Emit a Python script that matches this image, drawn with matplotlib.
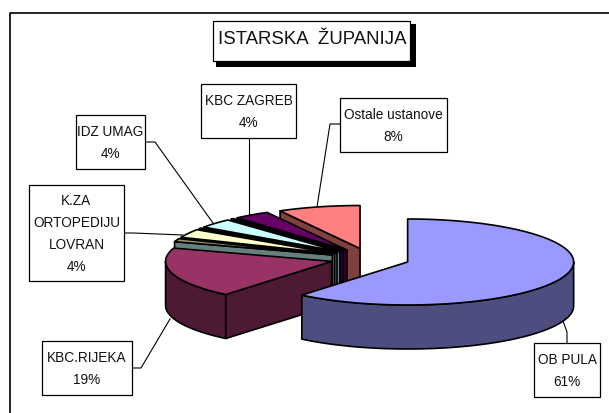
import numpy as np
import matplotlib
matplotlib.use("Agg")
import matplotlib.pyplot as plt
from matplotlib.patches import Polygon, Rectangle

plt.rcParams['font.family'] = ['Liberation Sans', 'DejaVu Sans']

# data (share of total, clockwise from 12 o'clock)
slice_names = ["OB PULA", "KBC.RIJEKA", "thin1", "K.ZA ORTOPEDIJU LOVRAN", "thin2", "IDZ UMAG", "thin3", "KBC ZAGREB", "Ostale ustanove"]
values = [61, 19, 1.2, 3.2, 0.3, 3.5, 0.3, 3.5, 8]
top_colors = ["#9999FF", "#993366", "#95956F", "#FFFFCC", "#000040", "#CCFFFF", "#000040", "#660066", "#FF8080"]
side_colors = ["#4D4D80", "#4D1933", "#668080", "#668080", "#668080", "#668080", "#330033", "#330033", "#804040"]

title_text = "ISTARSKA  ŽUPANIJA"
label_texts = ["OB PULA\n61%", "KBC.RIJEKA\n19%", "K.ZA\nORTOPEDIJU\nLOVRAN\n4%", "IDZ UMAG\n4%", "KBC ZAGREB\n4%", "Ostale ustanove\n8%"]
label_boxes = [(534, 344, 600, 398), (42, 342, 132, 396), (29, 186, 124, 282), (76, 116, 145, 170), (201, 85, 296, 139), (340, 99, 447, 153)]
leaders = [
    [(563, 322), (567, 333), (567, 344)],
    [(132, 369), (141, 369), (170, 320)],
    [(124, 234), (133, 234), (183, 236)],
    [(145, 143), (155, 143), (213, 224)],
    [(249, 139), (249, 219)],
    [(340, 125), (330, 125), (317, 208)],
]

CX, CY = 370, 259.5
RX, RY = 166, 43
DEPTH = 44
EX, EY = 40, 10.3

fig = plt.figure(figsize=(6.09, 4.14), dpi=100)
ax = fig.add_axes([0, 0, 1, 1])
ax.set_xlim(0, 609)
ax.set_ylim(414, 0)
ax.axis("off")

# chart frame: only the top and left lines show
ax.plot([9.5, 9.5, 609], [414, 13.5, 13.5], color="black", lw=1.2, zorder=1)

total = sum(values)
edges = np.cumsum([0] + values) / total * 2 * np.pi
wedges = []
for i in range(len(values)):
    a0, a1 = edges[i], edges[i + 1]
    mid = (a0 + a1) / 2
    wedges.append((i, a0, a1, CX + EX * np.sin(mid), CY - EY * np.cos(mid)))

def rim(a0, a1, cx, cy):
    t = np.linspace(a0, a1, max(3, int((a1 - a0) * 60)))
    return np.column_stack([cx + RX * np.sin(t), cy - RY * np.cos(t)])

lw = 1.2
z = 5
# back to front: Ostale first, then counter-clockwise, then PULA last
for i, a0, a1, cx, cy in reversed(wedges):
    apex = np.array([cx, cy])
    pts = rim(a0, a1, cx, cy)
    down = np.array([0, DEPTH])
    # outer wall (only the part that faces the viewer)
    lo, hi = max(a0, np.pi / 2), min(a1, 3 * np.pi / 2)
    if hi > lo:
        p = rim(lo, hi, cx, cy)
        ax.add_patch(Polygon(np.vstack([p, (p + down)[::-1]]), closed=True, fc=side_colors[i], ec="black", lw=lw, zorder=z, joinstyle="round"))
        z += 1
    # only the radial face at the clockwise start of a slice faces the viewer
    if a0 > np.pi:
        e = rim(a0, a0, cx, cy)[0]
        ax.add_patch(Polygon([apex, e, e + down, apex + down], closed=True, fc=side_colors[i], ec="black", lw=lw, zorder=z, joinstyle="round"))
        z += 1
    ax.add_patch(Polygon(np.vstack([apex, pts]), closed=True, fc=top_colors[i], ec="black", lw=lw, zorder=z, joinstyle="round"))
    z += 1

# leaders and boxes
for pts in leaders:
    xs, ys = zip(*pts)
    ax.plot(xs, ys, color="black", lw=0.8, zorder=3)
for (x0, y0, x1, y1), s in zip(label_boxes, label_texts):
    ax.add_patch(Rectangle((x0, y0), x1 - x0, y1 - y0, fc="white", ec="black", lw=0.9, zorder=201))
    ax.text((x0 + x1) / 2, (y0 + y1) / 2, s, ha="center", va="center", fontsize=9.8, linespacing=1.72, color="#111111", zorder=202)

# title with shadow
ax.add_patch(Rectangle((216, 25), 200, 43, fc="black", ec="black", lw=0, zorder=210))
ax.add_patch(Rectangle((213, 22), 197, 40, fc="white", ec="black", lw=0.9, zorder=211))
ax.text(312, 40, title_text, ha="center", va="center", fontsize=13.4, color="#111111", zorder=212)

fig.savefig("out.png", dpi=100)
